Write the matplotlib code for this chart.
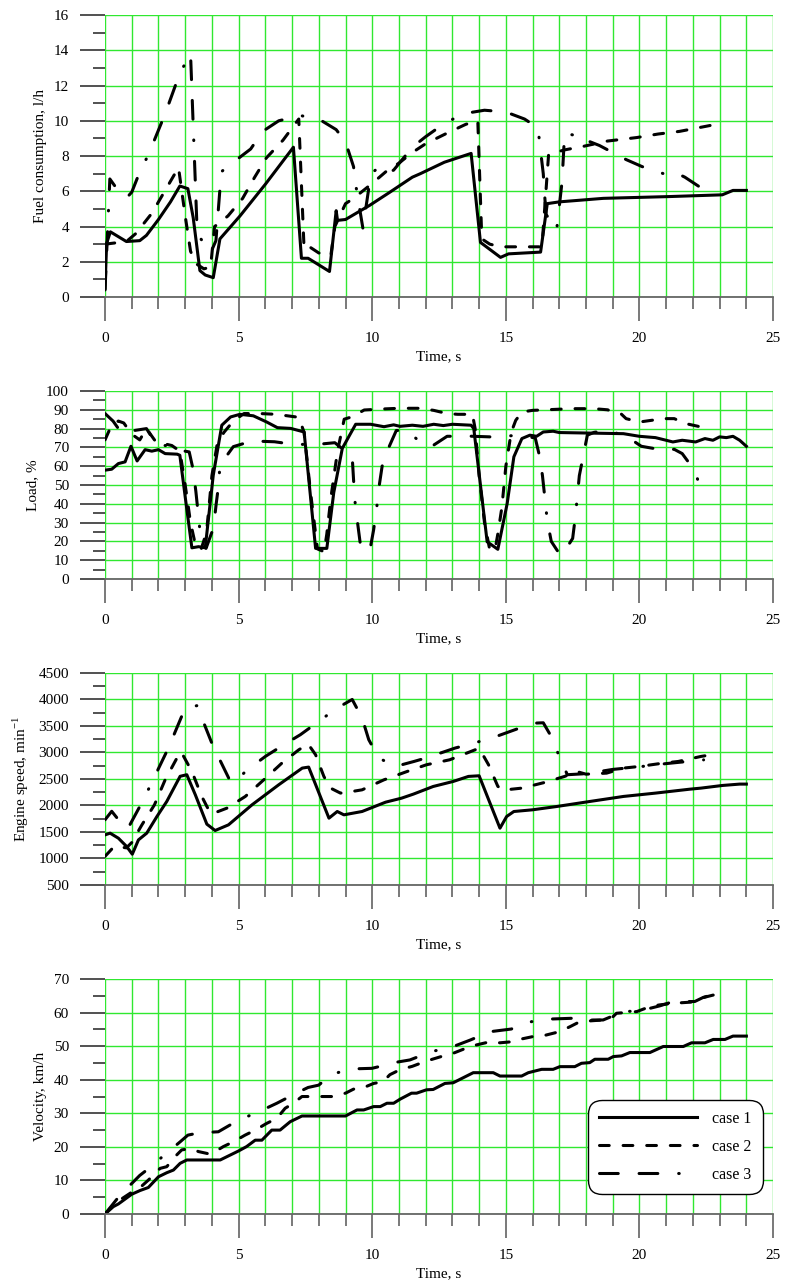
import matplotlib
matplotlib.use("Agg")
import matplotlib.pyplot as plt
from matplotlib.ticker import MultipleLocator

plt.rcParams['font.family'] = ['Liberation Serif', 'DejaVu Serif']
plt.rcParams['font.size'] = 11
plt.rcParams['lines.scale_dashes'] = False

# ---------------- fuel consumption, l/h ----------------
fuel_t1 = [0, 0.06, 0.2, 0.8, 1.3, 1.55, 2.0, 2.45, 2.8, 3.1, 3.3, 3.55, 3.75, 4.05, 4.3, 5.05, 6.0, 7.05,
           7.35, 7.6, 8.4, 8.65, 8.7, 9.0, 9.9, 10.66, 11.5, 11.8, 12.7, 13.7, 14.05, 14.8, 15.1, 16.3, 16.55,
           17.0, 18.65, 21.1, 23.1, 23.5, 24.0]
fuel_v1 = [0.5, 3.05, 3.7, 3.15, 3.2, 3.5, 4.4, 5.4, 6.3, 6.15, 4.5, 1.5, 1.25, 1.1, 3.3, 4.6, 6.4, 8.5,
           2.2, 2.2, 1.45, 4.9, 4.35, 4.4, 5.2, 5.95, 6.8, 7.0, 7.65, 8.15, 3.1, 2.25, 2.45, 2.55, 5.3,
           5.4, 5.6, 5.7, 5.8, 6.05, 6.05]
fuel_t2 = [0, 0.8, 1.15, 1.75, 2.25, 2.75, 3.0, 3.2, 3.4, 3.7, 3.95, 4.1, 4.6, 5.15, 5.6, 6.04, 6.66, 7.15,
           7.25, 7.45, 7.7, 8.0, 8.45, 8.6, 9.0, 9.3, 10.0, 10.5, 11.0, 11.5, 12.0, 12.8, 13.5, 13.95, 14.1,
           14.4, 14.8, 16.35, 16.6, 17.2, 17.9, 18.8, 19.9, 20.7, 21.5, 22.7, 22.85]
fuel_v2 = [3.0, 3.15, 3.6, 4.75, 6.05, 7.35, 4.6, 2.6, 1.9, 1.6, 1.7, 4.0, 4.6, 5.6, 6.8, 7.9, 8.9, 9.9,
           10.1, 2.7, 2.8, 2.5, 2.35, 4.0, 5.3, 5.6, 6.45, 7.1, 7.6, 8.2, 8.7, 9.3, 9.8, 10.0, 3.3,
           3.0, 2.85, 2.85, 8.1, 8.35, 8.55, 8.85, 9.05, 9.25, 9.4, 9.75, 9.8]
fuel_t3 = [0, 0.18, 0.65, 0.85, 1.0, 1.3, 1.63, 2.25, 2.8, 3.2, 3.45, 3.95, 4.15, 4.35, 4.5, 5.45, 5.9,
           6.5, 7.3, 8.0, 8.65, 9.0, 9.3, 9.4, 9.65, 9.95, 10.2, 10.5, 10.8, 11.5, 12.0, 12.65, 13.4,
           14.2, 15.0, 15.7, 16.2, 16.4, 16.5, 16.9, 17.1, 17.2, 17.5, 17.7, 18.0, 18.5, 19.0, 19.5,
           20.1, 20.9, 21.3, 21.7, 22.3]
fuel_v3 = [0.4, 6.7, 5.7, 5.7, 5.95, 7.1, 8.1, 10.4, 12.7, 13.8, 3.6, 2.5, 3.2, 7.1, 7.3, 8.4, 9.4,
           10.0, 10.3, 10.1, 9.5, 8.8, 7.4, 6.2, 3.9, 7.0, 7.3, 7.0, 7.2, 8.5, 9.1, 9.8, 10.4,
           10.6, 10.5, 10.1, 9.6, 7.0, 4.7, 3.8, 6.5, 9.3, 9.2, 9.3, 8.9, 8.6, 8.2, 7.8,
           7.4, 7.0, 7.1, 6.8, 6.2]

# ---------------- load, % ----------------
load_t1 = [0, 0.25, 0.5, 0.75, 0.97, 1.2, 1.5, 1.75, 2.0, 2.25, 2.7, 2.8, 3.0, 3.25, 3.5, 3.75, 4.05, 4.37,
           4.7, 5.05, 5.55, 6.05, 6.45, 6.95, 7.45, 7.88, 8.3, 8.56, 8.88, 9.38, 9.94, 10.44, 10.8, 11.04,
           11.5, 11.9, 12.3, 12.66, 13.0, 13.7, 13.8, 14.3, 14.7, 15.05, 15.3, 15.6, 15.9, 16.15, 16.4,
           16.77, 17.0, 19.4, 20.0, 20.6, 21.25, 21.6, 22.1, 22.45, 22.75, 23.0, 23.25, 23.5, 23.75, 24.0]
load_v1 = [57.9, 58.4, 61.4, 62.3, 70.6, 62.8, 68.8, 68, 68.8, 66.7, 66.4, 65.8, 43.7, 16.6, 17.2, 16.6, 55.2, 81.8,
           86.2, 87.6, 86.8, 83.5, 80.5, 80.1, 78.2, 16.3, 16.3, 46, 69.5, 82.3, 82.3, 81, 82, 81.2,
           81.8, 81.2, 82.3, 81.6, 82.3, 81.8, 80, 19.8, 15.8, 40.2, 65, 74.7, 76.5, 75.9, 78.2,
           78.6, 77.9, 77.3, 75.9, 75.2, 72.9, 73.8, 72.9, 74.7, 73.8, 75.6, 75.2, 75.9, 73.8, 70.6]
load_t2 = [0, 0.25, 0.5, 0.7, 1.0, 1.3, 1.55, 1.9, 2.5, 2.8, 3.0, 3.2, 3.4, 3.6, 3.8, 4.0, 4.2, 4.45, 4.8,
           5.2, 5.8, 6.4, 7.25, 7.45, 7.7, 7.95, 8.2, 8.3, 8.45, 8.7, 8.95, 9.25, 9.7, 10.5, 11.0, 11.8,
           12.3, 12.8, 13.2, 13.75, 13.85, 14.0, 14.2, 14.4, 14.6, 14.7, 14.85, 15.0, 15.2, 15.37, 15.6,
           16.0, 16.5, 17.45, 18.3, 18.8, 19.3, 19.5, 20.0, 20.45, 20.9, 21.3, 21.75, 22.2, 22.65]
load_v2 = [74, 82, 84, 83, 77, 74, 80, 73, 71, 68, 50, 30, 17, 16, 25, 55, 72, 78, 84,
           88, 88, 87.6, 86, 78, 45, 16, 14.5, 24, 43, 68, 85, 86.3, 89.9, 90.5, 90.8, 90.8,
           89.7, 88, 87.6, 87.6, 80, 55, 30, 15.4, 16, 24, 38, 60, 78, 84.4, 88.8,
           89.7, 90, 90.6, 90.6, 90, 88, 85.3, 83.5, 84.4, 85.3, 85.3, 82.6, 81.2, 82.6]
load_t3 = [0, 0.3, 0.55, 0.8, 1.1, 1.55, 1.95, 2.5, 2.8, 3.15, 3.3, 3.4, 3.55, 3.78, 4.06, 4.16, 4.25, 4.3,
           4.8, 5.5, 6.34, 7.06, 7.94, 8.6, 9.25, 9.3, 9.35, 9.45, 9.55, 9.9, 10.05, 10.16, 10.25, 10.37,
           10.62, 10.9, 11.3, 11.7, 12.2, 12.8, 13.6, 14.4, 15.0, 15.5, 16.1, 16.25, 16.37, 16.55, 16.7,
           17.0, 17.1, 17.5, 17.6, 17.75, 18.05, 18.3, 18.8, 19.5, 20.07, 20.9, 21.3, 21.6, 22.1, 22.3]
load_v3 = [88, 84, 79, 77, 79, 80, 71, 71, 68.5, 67.6, 58, 46.5, 26, 16.3, 27.3, 40, 50, 60.6,
           70.4, 73.4, 73, 71.6, 71.6, 72.5, 65, 53, 41.7, 30, 19, 14.5, 26, 37, 48.6, 60,
           70, 79, 79, 74, 70.3, 75.9, 76, 75.6, 76, 76.5, 75, 66, 55, 31, 20,
           13.5, 12.7, 21.6, 33, 55, 76.5, 78, 79, 76, 70.6, 68.5, 69, 66.7, 57, 46.4]

# ---------------- engine speed, min^-1 ----------------
rpm_t1 = [0, 0.19, 0.5, 0.81, 1.02, 1.25, 1.56, 1.94, 2.31, 2.81, 3.06, 3.38, 3.81, 4.12, 4.62, 5.5, 6.5,
          7.38, 7.62, 8.38, 8.69, 8.94, 9.62, 10.5, 11.1, 11.54, 12.28, 13.03, 13.6, 14.0, 14.78, 15.03,
          15.3, 16.0, 16.9, 18.14, 19.4, 20.6, 21.9, 22.3, 23.1, 23.75, 24.0]
rpm_v1 = [1445, 1477, 1382, 1225, 1080, 1350, 1477, 1790, 2075, 2550, 2580, 2200, 1647, 1527, 1634, 2012, 2390,
          2705, 2724, 1760, 1886, 1823, 1886, 2062, 2138, 2214, 2358, 2453, 2548, 2560, 1571, 1792,
          1886, 1918, 1980, 2075, 2170, 2233, 2308, 2327, 2377, 2403, 2403]
rpm_t2 = [0, 0.35, 0.8, 1.0, 1.38, 1.85, 2.25, 2.69, 2.85, 3.25, 3.62, 3.94, 4.1, 4.56, 5.25, 5.94, 6.62,
          7.25, 7.6, 7.88, 8.19, 8.44, 8.81, 9.25, 9.62, 10.44, 11.31, 12.03, 12.9, 14.0, 14.35, 14.7,
          14.9, 15.6, 16.45, 17.2, 17.65, 18.0, 18.77, 19.4, 20.0, 20.9, 21.45, 22.3, 22.7]
rpm_v2 = [1040, 1230, 1200, 1300, 1634, 2012, 2484, 2894, 3010, 2642, 2170, 1854, 1860, 1949, 2170, 2484, 2800,
          3050, 3160, 2957, 2547, 2327, 2233, 2264, 2295, 2484, 2642, 2768, 2862, 3080, 2770, 2360,
          2290, 2327, 2434, 2548, 2640, 2590, 2610, 2705, 2736, 2800, 2830, 2925, 2957]
rpm_t3 = [0, 0.25, 0.55, 0.85, 1.3, 1.66, 2.37, 3.0, 3.44, 4.02, 4.69, 4.8, 5.37, 6.0, 6.69, 7.31, 8.0,
          8.65, 9.25, 9.62, 9.87, 10.25, 10.87, 11.56, 12.0, 13.1, 13.9, 14.65, 15.4, 16.15, 16.4, 16.7,
          17.0, 17.3, 18.0, 19.0, 20.0, 21.0, 22.4]
rpm_v3 = [1730, 1890, 1700, 1560, 1980, 2340, 3083, 3840, 3883, 3146, 2453, 2430, 2690, 2925, 3146, 3335, 3587,
          3827, 4000, 3650, 3240, 2894, 2736, 2830, 2894, 3083, 3190, 3304, 3440, 3555, 3560, 3300,
          2925, 2580, 2600, 2680, 2730, 2790, 2860]

# ---------------- velocity, km/h ----------------
vel_t1 = [0, 0.31, 0.5, 1.0, 1.31, 1.62, 2.0, 2.31, 2.56, 2.81, 3.06, 4.31, 5.0, 5.3, 5.62, 5.87, 6.24, 6.55,
          6.93, 7.37, 9.0, 9.43, 9.68, 10.05, 10.3, 10.55, 10.8, 11.04, 11.47, 11.66, 12.03, 12.28, 12.72,
          13.03, 13.78, 14.53, 14.78, 15.59, 15.84, 16.34, 16.77, 17.02, 17.58, 17.83, 18.14, 18.33, 18.83,
          19.02, 19.33, 19.64, 20.39, 20.89, 21.64, 21.95, 22.45, 22.76, 23.2, 23.5, 24.0]
vel_v1 = [0, 2.2, 3, 5.9, 7, 7.9, 11.1, 12.3, 13.1, 15.1, 16.1, 16.1, 18.8, 20.1, 22, 22, 25, 25,
          27.5, 29.2, 29.2, 31, 31, 32, 32, 33, 33, 34.2, 36, 36, 37, 37.1, 38.9,
          39.1, 42.1, 42.1, 41.1, 41.1, 42.1, 43.1, 43.1, 43.9, 43.9, 44.9, 45.1, 46.1, 46.1,
          46.9, 47.1, 48.1, 48.1, 49.9, 49.9, 51, 51, 52, 52, 53, 53]
vel_t2 = [0, 0.37, 1.0, 1.37, 1.62, 2.06, 2.31, 2.62, 2.87, 3.2, 3.5, 3.9, 4.1, 4.43, 4.8, 5.24, 5.62, 6.05,
          6.43, 6.74, 7.05, 7.37, 8.55, 9.0, 9.3, 9.6, 10.05, 10.4, 10.66, 11.04, 11.5, 12.0, 12.66, 12.97,
          13.7, 14.4, 14.78, 15.2, 15.5, 16.1, 16.5, 17.0, 17.4, 17.77, 18.27, 18.64, 18.95, 19.14, 19.9,
          20.4, 20.76, 21.3, 22.1, 22.4, 22.9]
vel_v2 = [0, 3.2, 6.5, 8.3, 10.1, 13.6, 14.1, 17.1, 19.1, 19.5, 18.6, 17.9, 18.5, 20.1, 21.5, 23.5, 25, 27,
          28.5, 31.5, 33, 35, 35, 36, 37.2, 37.4, 38.9, 39.4, 41.5, 43, 44, 45.5, 47.1, 47.7,
          50, 51.3, 51, 51.3, 52, 53, 53.3, 54.3, 55.8, 57.3, 57.6, 57.8, 58.3, 59.8, 60.3,
          61.8, 62.3, 62.8, 63.2, 64.5, 65.5]
vel_t3 = [0, 0.5, 1.0, 1.3, 1.56, 2.18, 2.81, 3.1, 3.53, 4.24, 5.0, 5.68, 6.43, 7.18, 7.6, 8.0, 8.43, 9.14,
          9.99, 10.3, 10.67, 11.41, 12.22, 12.97, 13.66, 14.4, 15.2, 15.96, 16.74, 17.46, 17.8, 18.27,
          18.64, 19.4, 20.0, 20.76, 21.26, 22.07, 22.38, 23.03]
vel_v3 = [0, 5, 9.1, 11.5, 13.1, 17.3, 21.5, 23.5, 24.2, 24.5, 28, 30.2, 33, 36.1, 37.7, 38.4, 41.4, 43.2,
          43.4, 44, 44.9, 45.9, 48.4, 49.7, 51.8, 54.3, 55.1, 57.3, 58.1, 58.3, 57.5, 57.8,
          57.8, 60.3, 60.5, 62, 63.3, 63.3, 64.5, 66]

case_labels = ["case 1", "case 2", "case 3"]

# line styles (in points): solid, short dash, long dash - long dash - dot
styles = ['-', (0, (7.0, 10.0)), (0, (13.5, 15.0, 13.5, 15.0, 0.4, 15.0))]

panels = [
    ("Fuel consumption, l/h", (0, 16), 2, 1,
     [(fuel_t1, fuel_v1), (fuel_t2, fuel_v2), (fuel_t3, fuel_v3)]),
    ("Load, %", (0, 100), 10, 5,
     [(load_t1, load_v1), (load_t2, load_v2), (load_t3, load_v3)]),
    ("Engine speed, min$^{\\mathregular{-1}}$", (500, 4500), 500, 250,
     [(rpm_t1, rpm_v1), (rpm_t2, rpm_v2), (rpm_t3, rpm_v3)]),
    ("Velocity, km/h", (0, 70), 10, 5,
     [(vel_t1, vel_v1), (vel_t2, vel_v2), (vel_t3, vel_v3)]),
]

# axes boxes in figure fractions: left, bottom, width, height
boxes = [
    (0.1338, 0.7692, 0.851, 0.2191),
    (0.1338, 0.5501, 0.851, 0.1461),
    (0.1338, 0.3124, 0.851, 0.1647),
    (0.1338, 0.0567, 0.851, 0.1826),
]

fig = plt.figure(figsize=(7.85, 12.87), dpi=100)

for (ylabel, ylim, ymaj, ymin, series), box in zip(panels, boxes):
    ax = fig.add_axes(box)
    handles = []
    for (t, v), ls, lab in zip(series, styles, case_labels):
        h, = ax.plot(t, v, color='black', lw=2.2, linestyle=ls,
                     dash_capstyle='round', solid_joinstyle='round', label=lab)
        handles.append(h)

    ax.set_xlim(0, 25)
    ax.set_ylim(*ylim)
    ax.xaxis.set_major_locator(MultipleLocator(5))
    ax.xaxis.set_minor_locator(MultipleLocator(1))
    ax.yaxis.set_major_locator(MultipleLocator(ymaj))
    ax.yaxis.set_minor_locator(MultipleLocator(ymin))

    ax.set_axisbelow(True)
    ax.grid(which='major', axis='both', color='#30e830', lw=1.0)
    ax.grid(which='minor', axis='x', color='#30e830', lw=1.0)

    for s in ['left', 'top', 'right']:
        ax.spines[s].set_visible(False)
    ax.spines['bottom'].set_color('#666666')
    ax.spines['bottom'].set_linewidth(1.3)

    ax.tick_params(axis='x', which='major', direction='out', length=17, width=1.1,
                   color='#555555', pad=8, labelsize=11)
    ax.tick_params(axis='x', which='minor', direction='out', length=8.5, width=1.1,
                   color='#555555')
    ax.tick_params(axis='y', which='major', direction='out', length=18, width=1.1,
                   color='#222222', pad=8, labelsize=11)
    ax.tick_params(axis='y', which='minor', direction='out', length=8.5, width=1.1,
                   color='#222222')

    ax.set_xlabel("Time, s", fontsize=11, labelpad=4)
    ax.set_ylabel(ylabel, fontsize=11, labelpad=5)

    if ylabel.startswith("Velocity"):
        leg = ax.legend(handles=handles, loc='lower right', bbox_to_anchor=(0.985, 0.085),
                        borderaxespad=0, handlelength=6.1, labelspacing=0.75, fontsize=11.5,
                        frameon=True, fancybox=True, framealpha=1, edgecolor='black',
                        borderpad=0.7, handletextpad=1.0)
        leg.get_frame().set_linewidth(1.0)
        leg.get_frame().set_boxstyle('round,pad=0,rounding_size=0.9')

fig.savefig("out.png", dpi=100)
